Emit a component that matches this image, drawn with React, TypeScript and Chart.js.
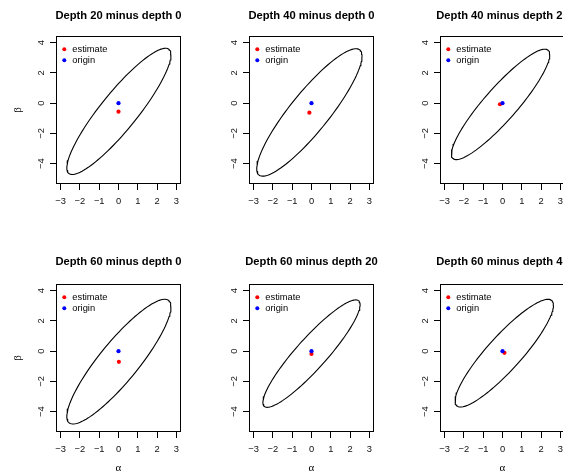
import React, { useEffect, useRef } from 'react';
import { Chart, registerables } from 'chart.js';

Chart.register(...registerables);

// Six pairwise depth comparisons, laid out 2 rows x 3 columns.
const panelTitles = [
  'Depth 20 minus depth 0',
  'Depth 40 minus depth 0',
  'Depth 40 minus depth 20',
  'Depth 60 minus depth 0',
  'Depth 60 minus depth 20',
  'Depth 60 minus depth 40',
];

// Point estimates (alpha, beta) of each difference.
const estimateAlpha = [0.0, -0.11, -0.13, 0.02, 0.0, 0.1];
const estimateBeta = [-0.56, -0.63, -0.07, -0.7, -0.18, -0.11];

// Reference point.
const originAlpha = [0, 0, 0, 0, 0, 0];
const originBeta = [0, 0, 0, 0, 0, 0];

// Confidence ellipse: centre, half extents along each axis, correlation.
const ellipseCenterAlpha = [0.02, -0.11, -0.1, 0.02, 0.0, 0.09];
const ellipseCenterBeta = [-0.54, -0.61, -0.08, -0.69, -0.16, -0.13];
const ellipseHalfAlpha = [2.7, 2.73, 2.55, 2.7, 2.52, 2.55];
const ellipseHalfBeta = [4.17, 4.21, 3.65, 4.12, 3.55, 3.56];
const ellipseRho = [0.895, 0.885, 0.9, 0.88, 0.91, 0.89];

const xTicks = [-3, -2, -1, 0, 1, 2, 3];
const yTicks = [-4, -2, 0, 2, 4];
const legendLabels = ['estimate', 'origin'];
const legendColors = ['#FF0000', '#0000FF'];

const SANS = "'Liberation Sans', Arial, Helvetica, sans-serif";
const SERIF = "'Liberation Serif', 'DejaVu Serif', serif";

const CANVAS_W = 193;
const CANVAS_H = 248;
const colLeft = [0, 193, 384];
const rowTop = [0, 248];
const titleOffset = [20.5, 22];

const fmt = (v: number) => (v < 0 ? '\u2212' + Math.abs(v) : String(v));

function ellipsePoints(i: number) {
  const d = Math.acos(ellipseRho[i]);
  const pts: { x: number; y: number }[] = [];
  const n = 120;
  for (let k = 0; k <= n; k++) {
    const t = (2 * Math.PI * k) / n;
    pts.push({
      x: ellipseCenterAlpha[i] + ellipseHalfAlpha[i] * Math.cos(t),
      y: ellipseCenterBeta[i] + ellipseHalfBeta[i] * Math.cos(t - d),
    });
  }
  return pts;
}

// Frame around the plotting region.
const framePlugin = {
  id: 'frame',
  afterDraw(chart: any) {
    const { ctx, chartArea } = chart;
    ctx.save();
    ctx.strokeStyle = '#000';
    ctx.lineWidth = 1;
    const l = Math.round(chartArea.left) + 0.5;
    const t = Math.round(chartArea.top) + 0.5;
    const r = Math.round(chartArea.right) - 0.5;
    const b = Math.round(chartArea.bottom) - 0.5;
    ctx.strokeRect(l, t, r - l, b - t);
    ctx.restore();
  },
};

// Bold main title centred over the plotting region (may overflow its width).
const panelTitlePlugin = {
  id: 'panelTitle',
  afterDraw(chart: any, _args: any, opts: any) {
    const { ctx, chartArea } = chart;
    ctx.save();
    ctx.font = `bold 11.2px ${SANS}`;
    ctx.fillStyle = '#000';
    ctx.textAlign = 'center';
    ctx.textBaseline = 'middle';
    ctx.fillText(opts.text, (chartArea.left + chartArea.right) / 2, chartArea.top - opts.offset);
    ctx.restore();
  },
};

// Borderless legend in the top-left corner of the plotting region.
const insetLegendPlugin = {
  id: 'insetLegend',
  afterDraw(chart: any) {
    const { ctx, chartArea } = chart;
    ctx.save();
    ctx.font = `9.33px ${SANS}`;
    ctx.textBaseline = 'alphabetic';
    ctx.textAlign = 'left';
    legendLabels.forEach((label, k) => {
      const cy = chartArea.top + 13.2 + k * 11;
      ctx.fillStyle = legendColors[k];
      ctx.beginPath();
      ctx.arc(chartArea.left + 8.3, cy, 2, 0, Math.PI * 2);
      ctx.fill();
      ctx.fillStyle = '#000';
      ctx.fillText(label, chartArea.left + 16.3, cy + 2.8);
    });
    ctx.restore();
  },
};

function Panel({ index }: { index: number }) {
  const ref = useRef<HTMLCanvasElement>(null);

  useEffect(() => {
    if (!ref.current) return;
    const row = Math.floor(index / 3);
    const col = index % 3;
    const showBeta = col === 0;
    const showAlpha = row === 1;

    const chart = new Chart(ref.current, {
      type: 'scatter',
      data: {
        datasets: [
          {
            label: 'origin',
            data: [{ x: originAlpha[index], y: originBeta[index] }],
            backgroundColor: '#0000FF',
            borderWidth: 0,
            pointRadius: 2.1,
          },
          {
            label: 'estimate',
            data: [{ x: estimateAlpha[index], y: estimateBeta[index] }],
            backgroundColor: '#FF0000',
            borderWidth: 0,
            pointRadius: 2.1,
          },
          {
            label: 'ellipse',
            data: ellipsePoints(index),
            showLine: true,
            borderColor: '#000',
            borderWidth: 1.1,
            borderJoinStyle: 'round',
            borderCapStyle: 'round',
            pointRadius: 0,
            tension: 0,
            fill: false,
          },
        ],
      },
      options: {
        animation: false,
        responsive: false,
        maintainAspectRatio: false,
        events: [],
        layout: { padding: { left: 0, top: 36, right: CANVAS_W - 56 - 125, bottom: 0 } },
        plugins: {
          legend: { display: false },
          tooltip: { enabled: false },
          title: { display: false },
          panelTitle: { text: panelTitles[index], offset: titleOffset[row] },
        },
        scales: {
          x: {
            type: 'linear',
            position: 'bottom',
            min: -3.24,
            max: 3.24,
            afterBuildTicks: (s: any) => {
              s.ticks = xTicks.map((v) => ({ value: v }));
            },
            afterFit: (s: any) => {
              s.height = CANVAS_H - 184;
            },
            border: { display: false },
            grid: {
              display: true,
              drawOnChartArea: false,
              drawTicks: true,
              tickLength: 6,
              color: '#000',
              lineWidth: 1,
            },
            ticks: {
              autoSkip: false,
              maxRotation: 0,
              minRotation: 0,
              padding: 5.4,
              color: '#111',
              font: { family: SANS, size: 9.33, lineHeight: 1.2 },
              callback: (v: any) => fmt(Number(v)),
            },
            title: {
              display: showAlpha,
              text: '\u03b1',
              color: '#000',
              font: { family: SERIF, size: 11, lineHeight: 1.2 },
              padding: { top: 0, bottom: 21 },
            },
          },
          y: {
            type: 'linear',
            position: 'left',
            min: -5.34,
            max: 4.44,
            afterBuildTicks: (s: any) => {
              s.ticks = yTicks.map((v) => ({ value: v }));
            },
            afterFit: (s: any) => {
              s.width = 56;
            },
            border: { display: false },
            grid: {
              display: true,
              drawOnChartArea: false,
              drawTicks: true,
              tickLength: 6,
              color: '#000',
              lineWidth: 1,
            },
            ticks: {
              autoSkip: false,
              minRotation: 90,
              maxRotation: 90,
              crossAlign: 'center',
              padding: 3.7,
              color: '#111',
              font: { family: SANS, size: 9.33, lineHeight: 1.2 },
              callback: (v: any) => fmt(Number(v)),
            },
            title: {
              display: showBeta,
              text: '\u03b2',
              color: '#000',
              font: { family: SERIF, size: 11, lineHeight: 1.2 },
              padding: { top: 11.4, bottom: 0 },
            },
          },
        },
      },
      plugins: [framePlugin, panelTitlePlugin, insetLegendPlugin],
    } as any);

    return () => chart.destroy();
  }, [index]);

  const row = Math.floor(index / 3);
  const col = index % 3;
  return (
    <canvas
      ref={ref}
      width={CANVAS_W}
      height={CANVAS_H}
      style={{
        position: 'absolute',
        left: colLeft[col],
        top: rowTop[row],
        width: CANVAS_W,
        height: CANVAS_H,
      }}
    />
  );
}

export default function App() {
  return (
    <div
      style={{
        position: 'fixed',
        left: 0,
        top: 0,
        width: 563,
        height: 475,
        overflow: 'hidden',
        background: '#fff',
      }}
    >
      {panelTitles.map((_, i) => (
        <Panel key={i} index={i} />
      ))}
    </div>
  );
}
